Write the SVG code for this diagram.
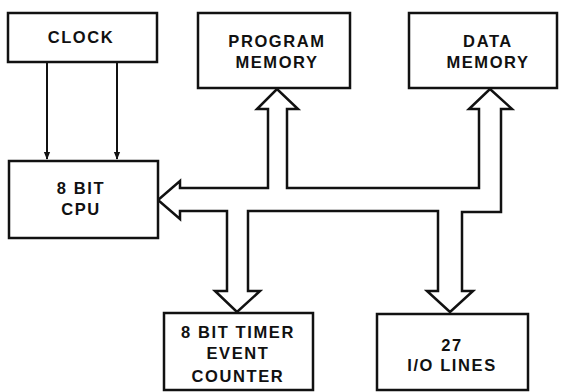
<svg xmlns="http://www.w3.org/2000/svg" width="561" height="392" viewBox="0 0 561 392">
<style>
.box{fill:#fff;stroke:#111;stroke-width:2.5}
.lbl{font-family:"Liberation Sans",Arial,sans-serif;font-weight:bold;font-size:16.5px;letter-spacing:1.6px;fill:#111;text-anchor:middle}
.bus{fill:#fff;stroke:#111;stroke-width:2.5;stroke-linejoin:miter}
.clk{stroke:#111;stroke-width:2;fill:none}
</style>
<defs>
<marker id="dot" viewBox="0 0 10 10" refX="9" refY="5" markerWidth="4" markerHeight="4" orient="auto" markerUnits="strokeWidth">
<path d="M0,1 L10,5 L0,9 Z" fill="#111"/>
</marker>
</defs>
<g id="connectors">
<path class="bus" d="M180,188 L180,181 L158,200 L180,219 L180,211 L227,211 L227,291 L215,291 L237,312 L260,291 L248,291 L248,211 L438,211 L438,291 L427,291 L450,312 L473,291 L462,291 L462,212 L501,212 L501,109 L512,109 L490,89 L469,109 L479,109 L479,188 L287,188 L287,109 L298,109 L277,89 L257,109 L268,109 L268,188 Z"/>
<line class="clk" x1="47" y1="62" x2="47" y2="159" marker-end="url(#dot)"/>
<line class="clk" x1="117" y1="62" x2="117" y2="159" marker-end="url(#dot)"/>
</g>
<g id="clock">
<rect class="box" x="8" y="13" width="149" height="49"/>
<text class="lbl" x="81" y="43">CLOCK</text>
</g>
<g id="program-memory">
<rect class="box" x="198" y="13" width="152" height="75"/>
<text class="lbl" x="277" y="47">PROGRAM</text>
<text class="lbl" x="277" y="68">MEMORY</text>
</g>
<g id="data-memory">
<rect class="box" x="409" y="13" width="148" height="75"/>
<text class="lbl" x="488" y="47">DATA</text>
<text class="lbl" x="488" y="68">MEMORY</text>
</g>
<g id="cpu">
<rect class="box" x="9" y="161" width="149" height="77"/>
<text class="lbl" x="81" y="194">8 BIT</text>
<text class="lbl" x="81" y="215">CPU</text>
</g>
<g id="timer">
<rect class="box" x="164" y="313" width="149" height="77"/>
<text class="lbl" x="238" y="338">8 BIT TIMER</text>
<text class="lbl" x="238" y="359">EVENT</text>
<text class="lbl" x="238" y="382">COUNTER</text>
</g>
<g id="io-lines">
<rect class="box" x="377" y="314" width="151" height="76"/>
<text class="lbl" x="452" y="351">27</text>
<text class="lbl" x="452" y="371">I/O LINES</text>
</g>
</svg>
